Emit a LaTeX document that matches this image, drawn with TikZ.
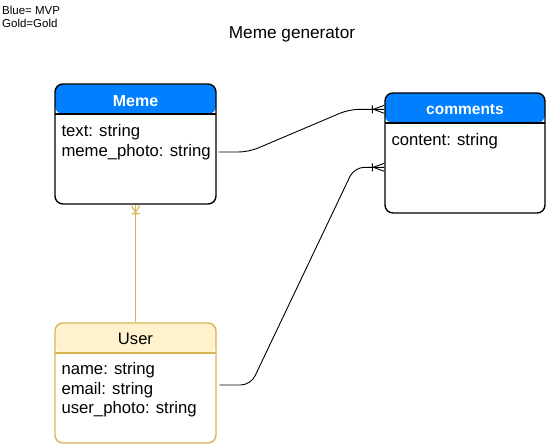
\documentclass[tikz,border=0pt]{standalone}
\usepackage{fontspec}
\setmainfont{Liberation Sans}
\usetikzlibrary{positioning}
\definecolor{mvpblue}{RGB}{0,127,255}
\definecolor{goldfill}{RGB}{255,242,204}
\definecolor{goldline}{RGB}{214,182,86}

\tikzset{
  entity/.style 2 args={draw=#1, fill=white, line width=1.4pt, rounded corners=8pt,
    minimum width=161pt, minimum height=120pt, inner sep=0pt,
    path picture={
      \fill[#2] (path picture bounding box.north west) rectangle ([yshift=-30pt]path picture bounding box.north east);
      \draw[#1, line width=1.4pt] ([yshift=-30pt]path picture bounding box.north west) -- ([yshift=-30pt]path picture bounding box.north east);
    }},
  headtext/.style={inner sep=0pt, font=\fontsize{16}{19}\selectfont},
  bodytext/.style={inner sep=0pt, anchor=north west, align=left, font=\fontsize{16.7}{19.5}\selectfont},
  link/.style={line width=0.9pt, rounded corners=10pt},
  goldlink/.style={line width=1.1pt, goldline}
}

\begin{document}
\begin{tikzpicture}[x=1pt, y=-1pt]
    \useasboundingbox (0,0) rectangle (547,445);

    % legend and title
    \node[anchor=base west, inner sep=0pt, align=left, font=\fontsize{11.5}{13}\selectfont] (legend) at (2,27.5) {Blue= MVP\\Gold=Gold};
    \node[anchor=base, inner sep=0pt, font=\fontsize{17.2}{20}\selectfont] (title) at (292,38) {Meme generator};

    % entities
    \node[entity={black}{mvpblue}] (meme) at (135.5,144) {};
    \node[entity={black}{mvpblue}, minimum width=160pt] (comments) at (465,153) {};
    \node[entity={goldline}{goldfill}] (user) at (135.5,383) {};

    \node[headtext, text=white, font=\fontsize{16}{19}\selectfont\bfseries] (memehead) at ([yshift=-17.5pt]meme.north) {Meme};
    \node[headtext, text=white, font=\fontsize{15.5}{19}\selectfont\bfseries] (commentshead) at ([yshift=-17.5pt]comments.north) {comments};
    \node[headtext, font=\fontsize{16.6}{19}\selectfont] (userhead) at ([yshift=-17pt]user.north) {User};

    \node[bodytext] (memebody) at ([xshift=7pt, yshift=-41pt]meme.north west) {text: string\\meme\_photo: string};
    \node[bodytext] (commentsbody) at ([xshift=7pt, yshift=-41pt]comments.north west) {content: string};
    \node[bodytext] (userbody) at ([xshift=7pt, yshift=-40pt]user.north west) {name: string\\email: string\\user\_photo: string};

    % connectors
    \coordinate (memeout) at ([xshift=2pt, yshift=-8pt]meme.east);
    \coordinate (userout) at ([xshift=3pt, yshift=-2pt]user.east);
    \coordinate (commentsin) at ([yshift=-17pt]comments.north west);
    \coordinate (commentsin2) at ([yshift=-75pt]comments.north west);

    \draw[link] (memeout) -- ++(30,0) -- ([xshift=-35pt]commentsin) -- (commentsin);
    \draw[link] (userout) -- ++(31,0) -- ([xshift=-30pt]commentsin2) -- (commentsin2);
    \draw[goldlink] (user.north) -- (meme.south);

    % crow's feet
    \draw[line width=0.9pt] ([xshift=-11pt]commentsin) -- ([yshift=4pt]commentsin)
        ([xshift=-11pt]commentsin) -- ([yshift=-4pt]commentsin)
        ([xshift=-12pt, yshift=4pt]commentsin) -- ([xshift=-12pt, yshift=-4pt]commentsin);
    \draw[line width=0.9pt] ([xshift=-11pt]commentsin2) -- ([yshift=4pt]commentsin2)
        ([xshift=-11pt]commentsin2) -- ([yshift=-4pt]commentsin2)
        ([xshift=-12pt, yshift=4pt]commentsin2) -- ([xshift=-12pt, yshift=-4pt]commentsin2);
    \draw[goldlink] ([yshift=-8pt]meme.south) -- ([xshift=-4pt, yshift=-1pt]meme.south)
        ([yshift=-8pt]meme.south) -- ([xshift=4pt, yshift=-1pt]meme.south)
        ([xshift=-4pt, yshift=-9pt]meme.south) -- ([xshift=4pt, yshift=-9pt]meme.south);
\end{tikzpicture}
\end{document}
